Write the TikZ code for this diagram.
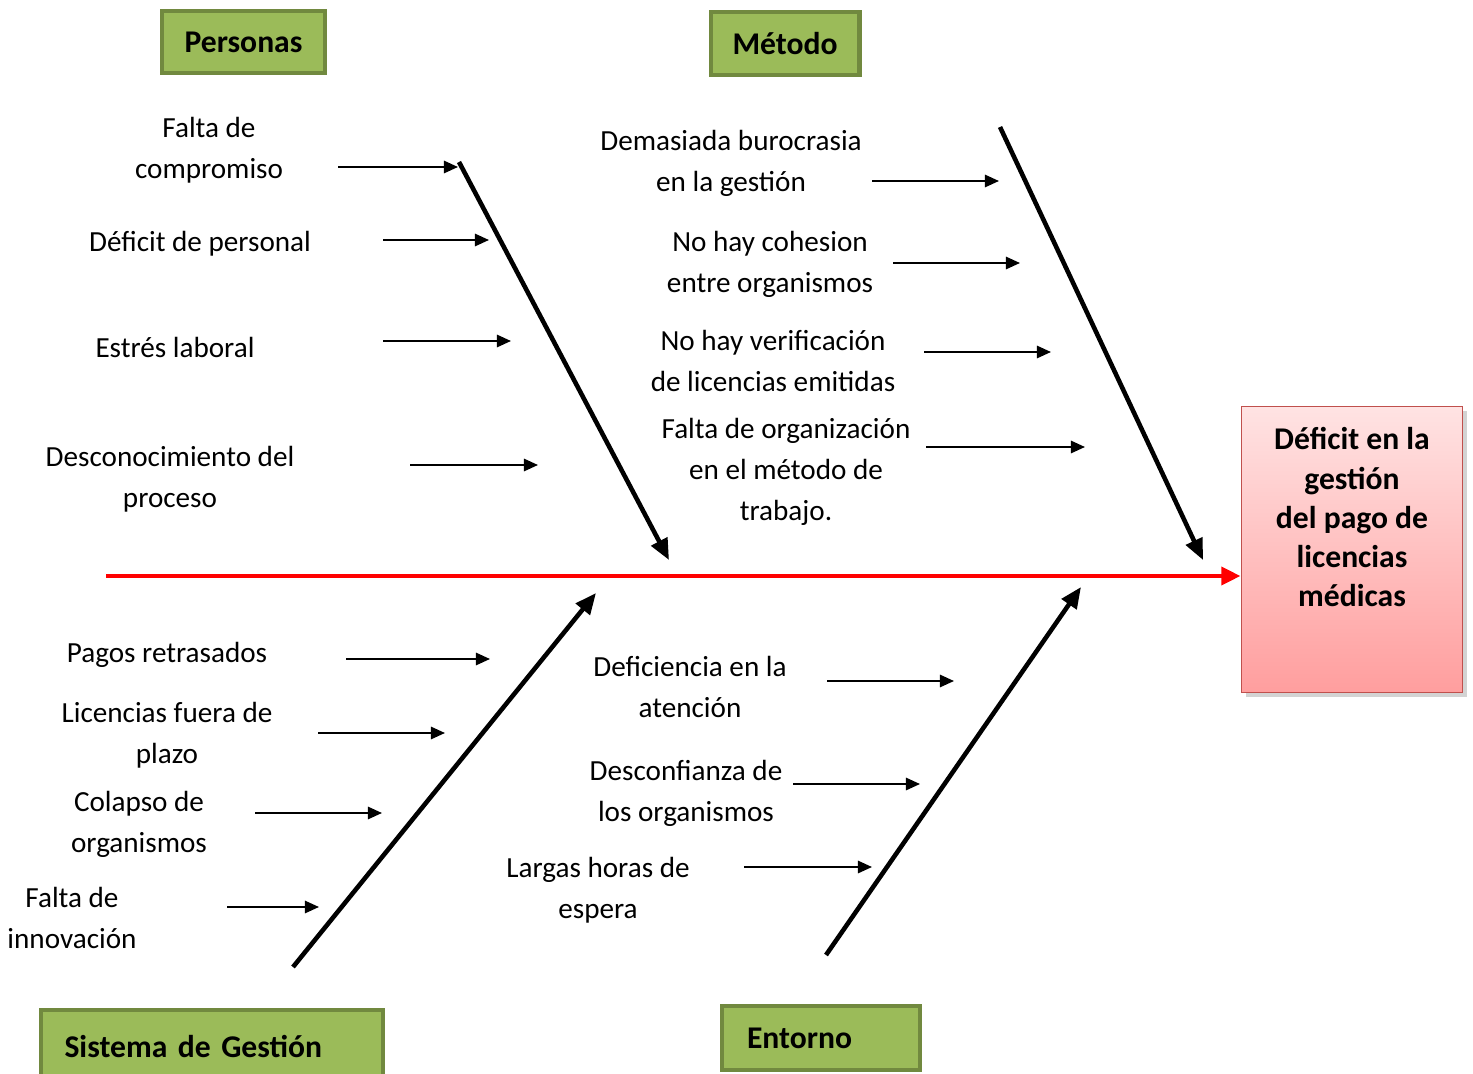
\documentclass[tikz,border=0pt]{standalone}
\usepackage{fontspec}
\setmainfont{Carlito}
\usetikzlibrary{arrows.meta,shadows}

\definecolor{verde}{HTML}{9BBB59}
\definecolor{verdeoscuro}{HTML}{71893F}
\definecolor{rosaclaro}{HTML}{FFE3E3}
\definecolor{rosaoscuro}{HTML}{FF9E9E}
\definecolor{bordeefecto}{HTML}{C0504D}

\tikzset{
  causa/.style={font=\fontsize{16.6}{23.3}\selectfont, align=center, inner sep=0pt},
  categoria/.style={draw=verdeoscuro, fill=verde, line width=2.3pt,
    font=\bfseries\fontsize{18}{22}\selectfont, inner sep=0pt},
  flechita/.style={-{Triangle[length=8pt,width=7pt]}, line width=1.15pt},
  espina/.style={-{Triangle[length=12pt,width=10pt]}, line width=2.6pt},
  espinazo/.style={-{Triangle[length=11pt,width=10pt]}, red, line width=2.8pt},
}

\begin{document}
\begin{tikzpicture}[x=0.02cm,y=-0.02cm]
  \useasboundingbox (0,0) rectangle (1473,1074);

  % Efecto
  \node[draw=bordeefecto, line width=1pt, top color=rosaclaro, bottom color=rosaoscuro,
        minimum width=4.42cm, minimum height=5.72cm, drop shadow={opacity=0.35}]
        (efecto) at (1352,549.5) {};
  \node[font=\bfseries\fontsize{18}{22.2}\selectfont, align=center, inner sep=0pt]
        (efectotexto) at (1352,517) {Déficit en la\\gestión\\del pago de\\licencias\\médicas};

  % Categorias
  \node[categoria, minimum width=3.26cm, minimum height=1.24cm] (personas) at (243.5,42) {Personas};
  \node[categoria, minimum width=2.98cm, minimum height=1.26cm] (metodo) at (785,43.5) {Método};
  \node[categoria, minimum width=6.84cm, minimum height=1.44cm, text width=5.9cm, align=left,
        inner xsep=0.46cm] (sistema) at (212,1046) {Sistema de Gestión};
  \node[categoria, minimum width=3.96cm, minimum height=1.28cm, text width=2.96cm, align=left,
        inner xsep=0.5cm] (entorno) at (821,1038) {Entorno};

  % Espinazo
  \coordinate (cola) at (106,576);
  \draw[espinazo] (cola) -- (cola -| efecto.west);

  % Espinas principales
  \coordinate (personasA) at (459,162);
  \coordinate (personasB) at (669,560);
  \coordinate (metodoA) at (1000,127);
  \coordinate (metodoB) at (1203,560);
  \coordinate (sistemaA) at (293,967);
  \coordinate (sistemaB) at (596,593);
  \coordinate (entornoA) at (826,955);
  \coordinate (entornoB) at (1081,587);
  \draw[espina] (personasA) -- (personasB);
  \draw[espina] (metodoA) -- (metodoB);
  \draw[espina] (sistemaA) -- (sistemaB);
  \draw[espina] (entornoA) -- (entornoB);

  % Causas: Personas
  \node[causa] (compromiso) at (209,150) {Falta de\\compromiso};
  \node[causa] (personal) at (200,244) {Déficit de personal};
  \node[causa] (estres) at (175,347) {Estrés laboral};
  \node[causa] (desconocimiento) at (170,479) {Desconocimiento del\\proceso};
  \coordinate (p1a) at (338,167); \coordinate (p1b) at (458,167);
  \coordinate (p2a) at (383,240); \coordinate (p2b) at (489,240);
  \coordinate (p3a) at (383,341); \coordinate (p3b) at (511,341);
  \coordinate (p4a) at (410,465); \coordinate (p4b) at (538,465);
  \draw[flechita] (p1a) -- (p1b);
  \draw[flechita] (p2a) -- (p2b);
  \draw[flechita] (p3a) -- (p3b);
  \draw[flechita] (p4a) -- (p4b);

  % Causas: Metodo
  \node[causa] (burocrasia) at (731,163) {Demasiada burocrasia\\en la gestión};
  \node[causa] (cohesion) at (770,264) {No hay cohesion\\entre organismos};
  \node[causa] (verificacion) at (773,361) {No hay verificación\\de licencias emitidas};
  \node[causa] (organizacion) at (786,472) {Falta de organización\\en el método de\\trabajo.};
  \coordinate (m1a) at (872,181); \coordinate (m1b) at (999,181);
  \coordinate (m2a) at (893,263); \coordinate (m2b) at (1020,263);
  \coordinate (m3a) at (924,352); \coordinate (m3b) at (1051,352);
  \coordinate (m4a) at (926,447); \coordinate (m4b) at (1085,447);
  \draw[flechita] (m1a) -- (m1b);
  \draw[flechita] (m2a) -- (m2b);
  \draw[flechita] (m3a) -- (m3b);
  \draw[flechita] (m4a) -- (m4b);

  % Causas: Sistema de Gestion
  \node[causa] (pagos) at (167,655) {Pagos retrasados};
  \node[causa] (plazo) at (167,735) {Licencias fuera de\\plazo};
  \node[causa] (colapso) at (139,824) {Colapso de\\organismos};
  \node[causa] (innovacion) at (72,918) {Falta de\\innovación};
  \coordinate (s1a) at (346,659); \coordinate (s1b) at (490,659);
  \coordinate (s2a) at (318,733); \coordinate (s2b) at (445,733);
  \coordinate (s3a) at (255,813); \coordinate (s3b) at (382,813);
  \coordinate (s4a) at (227,907); \coordinate (s4b) at (319,907);
  \draw[flechita] (s1a) -- (s1b);
  \draw[flechita] (s2a) -- (s2b);
  \draw[flechita] (s3a) -- (s3b);
  \draw[flechita] (s4a) -- (s4b);

  % Causas: Entorno
  \node[causa] (atencion) at (690,687) {Deficiencia en la\\atención};
  \node[causa] (desconfianza) at (686,793) {Desconfianza de\\los organismos};
  \node[causa] (espera) at (598,890) {Largas horas de\\espera};
  \coordinate (e1a) at (827,681); \coordinate (e1b) at (954,681);
  \coordinate (e2a) at (793,784); \coordinate (e2b) at (920,784);
  \coordinate (e3a) at (744,867); \coordinate (e3b) at (872,867);
  \draw[flechita] (e1a) -- (e1b);
  \draw[flechita] (e2a) -- (e2b);
  \draw[flechita] (e3a) -- (e3b);
\end{tikzpicture}
\end{document}
